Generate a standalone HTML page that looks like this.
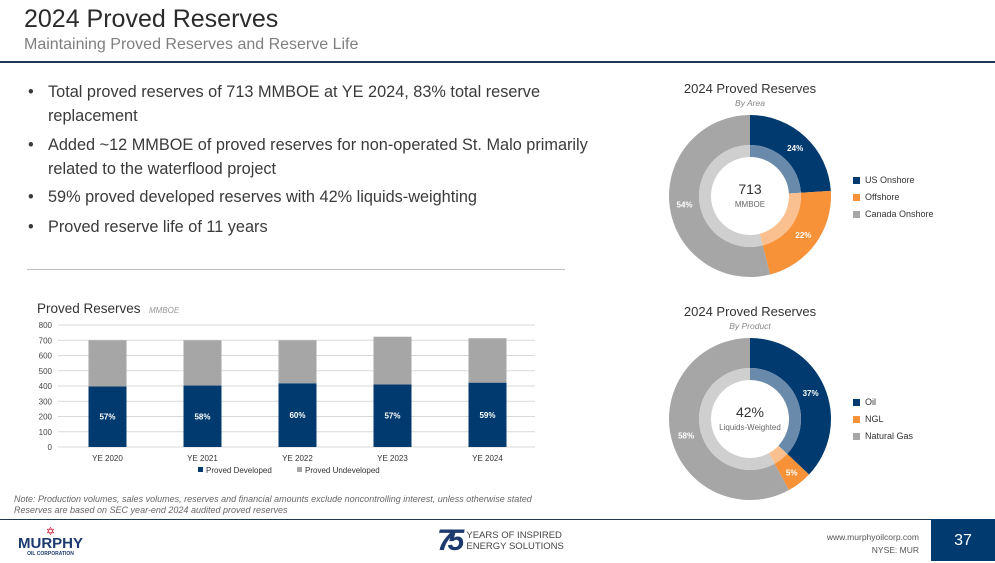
<!DOCTYPE html>
<html><head><meta charset="utf-8"><style>
body{margin:0;width:995px;height:561px;overflow:hidden;background:#fff;font-family:"Liberation Sans",sans-serif;position:relative}
.a{position:absolute;white-space:nowrap}
.bul{font-size:16.3px;color:#3a3a3a;line-height:24px}
</style></head><body>
<div class="a" style="left:24px;top:5px;font-size:25px;color:#2b2b2b">2024 Proved Reserves</div>
<div class="a" style="left:24px;top:36px;font-size:16px;color:#7f7f7f">Maintaining Proved Reserves and Reserve Life</div>
<div class="a" style="left:0;top:61px;width:995px;height:2px;background:#1c3a56"></div>
<div class="a bul" style="left:28px;top:80px">
<div style="display:flex"><span style="width:20px">•</span><span>Total proved reserves of 713 MMBOE at YE 2024, 83% total reserve<br>replacement</span></div>
<div style="display:flex;margin-top:5px"><span style="width:20px">•</span><span>Added ~12 MMBOE of proved reserves for non-operated St. Malo primarily<br>related to the waterflood project</span></div>
<div style="display:flex;margin-top:4px"><span style="width:20px">•</span><span>59% proved developed reserves with 42% liquids-weighting</span></div>
<div style="display:flex;margin-top:6px"><span style="width:20px">•</span><span>Proved reserve life of 11 years</span></div>
</div>
<div class="a" style="left:27px;top:269px;width:538px;height:1px;background:#bfbfbf"></div>

<svg id="svg" class="a" style="left:0;top:0" width="995" height="561"></svg>

<div class="a" style="left:14px;top:494px;font-size:9px;font-style:italic;color:#666;line-height:11px">Note: Production volumes, sales volumes, reserves and financial amounts exclude noncontrolling interest, unless otherwise stated<br>Reserves are based on SEC year-end 2024 audited proved reserves</div>
<div class="a" style="left:0;top:519px;width:995px;height:1px;background:#1c3a56"></div>
<div class="a" style="left:18px;top:527px;text-align:center;color:#1c3a6e">
<div style="color:#c8102e;font-size:11px;line-height:10px">✡</div>
<div style="font-size:15px;font-weight:bold;line-height:14px">MURPHY</div>
<div style="font-size:5px;font-weight:bold">OIL CORPORATION</div></div>
<div class="a" style="left:437px;top:524px;display:flex;align-items:center;color:#1c3a6e">
<span style="font-size:30px;font-weight:bold;letter-spacing:-6px;font-style:italic">75</span>
<span style="font-size:9.5px;line-height:11px;margin-left:8px;color:#444">YEARS OF INSPIRED<br>ENERGY SOLUTIONS</span></div>
<div class="a" style="left:790px;top:531px;width:129px;text-align:right;font-size:8.5px;color:#555;line-height:13px">www.murphyoilcorp.com<br>NYSE: MUR</div>
<div class="a" style="left:931px;top:519px;width:64px;height:42px;background:#013a6e;color:#fff;font-size:16px;text-align:center;line-height:44px">37</div>

<script>
const categories=["YE 2020","YE 2021","YE 2022","YE 2023","YE 2024"];
const developed=[397,403,418,410,422];
const totals=[700,700,700,723,713];
const pctLabels=["57%","58%","60%","57%","59%"];
const yTicks=[0,100,200,300,400,500,600,700,800];
const areaLabels=["US Onshore","Offshore","Canada Onshore"];
const areaValues=[24,22,54];
const productLabels=["Oil","NGL","Natural Gas"];
const productValues=[37,5,58];

const NS="http://www.w3.org/2000/svg",svg=document.getElementById('svg');
function el(t,a,p){const e=document.createElementNS(NS,t);for(const k in a)e.setAttribute(k,a[k]);(p||svg).appendChild(e);return e;}
function txt(x,y,s,a){const e=el('text',Object.assign({x:x,y:y,'font-family':'Liberation Sans, sans-serif'},a));e.textContent=s;return e;}
const BLUE='#013a6e',ORANGE='#f79239',GRAY='#a6a6a6';
const x0=60,x1=535,yB=447,yT=325;
const ys=v=>yB-(v/800)*(yB-yT);
const band=(x1-x0)/categories.length;
const xc=i=>x0+band*(i+0.5);
let t=txt(37,313,'Proved Reserves',{'font-size':13.5,fill:'#333'});

t=txt(149,313,'MMBOE',{'font-size':8,fill:'#999','font-style':'italic'});

yTicks.forEach(v=>{const l=el('line',{x1:58,x2:x1,y1:ys(v),y2:ys(v),stroke:'#d9d9d9','stroke-width':1});

const tt=txt(52,ys(v)+3,String(v),{'font-size':8,fill:'#444','text-anchor':'end'});
});
const bw=38;
categories.forEach((c,i)=>{
const b1=el('rect',{x:xc(i)-bw/2,y:ys(developed[i]),width:bw,height:yB-ys(developed[i]),fill:BLUE});

const b2=el('rect',{x:xc(i)-bw/2,y:ys(totals[i]),width:bw,height:ys(developed[i])-ys(totals[i]),fill:GRAY});

const p=txt(xc(i),ys(developed[i]/2)+3,pctLabels[i],{'font-size':8,fill:'#fff','font-weight':'bold','text-anchor':'middle'});

const xl=txt(xc(i),461,c,{'font-size':8,fill:'#333','text-anchor':'middle'});
});
let lg=el('rect',{x:198,y:467,width:5,height:5,fill:BLUE});
t=txt(206,473,'Proved Developed',{'font-size':8,fill:'#333'});
lg=el('rect',{x:297,y:467,width:5,height:5,fill:GRAY});
t=txt(305,473,'Proved Undeveloped',{'font-size':8,fill:'#333'});

function arc(cx,cy,r0,r1,a0,a1){const f=a=>[Math.sin(a),-Math.cos(a)];const[s0,c0]=f(a0),[s1,c1]=f(a1);const lg=a1-a0>Math.PI?1:0;
return `M${cx+r1*s0},${cy+r1*c0}A${r1},${r1} 0 ${lg} 1 ${cx+r1*s1},${cy+r1*c1}L${cx+r0*s1},${cy+r0*c1}A${r0},${r0} 0 ${lg} 0 ${cx+r0*s0},${cy+r0*c0}Z`;}
const light=['#6a8aab','#fbc08f','#cfcfcf'];
function donut(name,cx,cy,vals,labels,title,sub,big,small,legY,pos){
let tt=txt(cx,93+(cy-196),title,{'font-size':13,fill:'#333','text-anchor':'middle'});
tt=txt(cx,106+(cy-196),sub,{'font-size':8.5,fill:'#888','font-style':'italic','text-anchor':'middle'});
const tot=vals.reduce((a,b)=>a+b,0);let a=0;const cols=[BLUE,ORANGE,GRAY];
vals.forEach((v,i)=>{const a1=a+v/tot*2*Math.PI;
const p=el('path',{d:arc(cx,cy,51,81,a,a1),fill:cols[i]});
const p2=el('path',{d:arc(cx,cy,39,51,a,a1),fill:light[i]});
const m=(a+a1)/2,r=pos[i]||66;const l=txt(cx+r*Math.sin(m),cy-r*Math.cos(m)+3,v+'%',{'font-size':8,fill:'#fff','font-weight':'bold','text-anchor':'middle'});
a=a1;
const sw=el('rect',{x:853,y:legY+i*17-6,width:7,height:7,fill:cols[i]});
const lt=txt(865,legY+i*17,labels[i],{'font-size':9,fill:'#333'});});
tt=txt(cx,cy-2,big,{'font-size':14,fill:'#333','text-anchor':'middle'});
tt=txt(cx,cy+11,small,{'font-size':8,fill:'#666','text-anchor':'middle'});}
donut('area-donut',750,196,areaValues,areaLabels,'2024 Proved Reserves','By Area','713','MMBOE',183,[66,66,66]);
donut('product-donut',750,419,productValues,productLabels,'2024 Proved Reserves','By Product','42%','Liquids-Weighted',405,[66,68,66]);
</script>
</body></html>
